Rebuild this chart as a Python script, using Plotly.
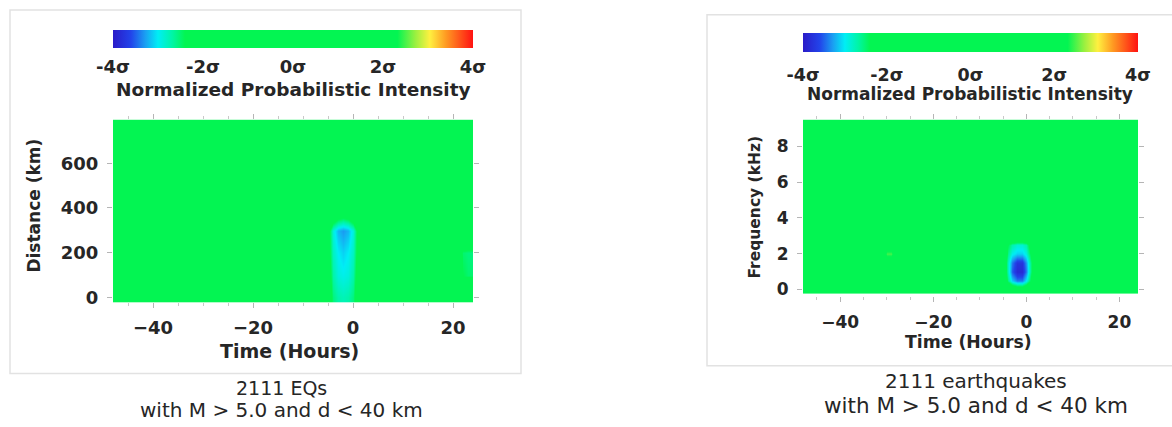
import numpy as np
import plotly.graph_objects as go

W, H = 1172, 427

# ---------------- data ----------------
hours = list(range(-48, 25))                     # time bins (hours)
distance_km = [0, 100, 200, 300, 400, 500, 600, 700, 800]
frequency_khz = [0.0, 0.5, 1.0, 1.5, 2.0, 2.5, 3.0, 3.5, 4.0, 4.5,
                 5.0, 5.5, 6.0, 6.5, 7.0, 7.5, 8.0, 8.5, 9.0, 9.5]

# left panel: negative anomaly a few hours before the quakes
left_blob_hours = [-6, -5, -4, -3, -2, -1, 0, 1, 2]
left_blob_dist = [0, 100, 200, 300, 400]
left_blob_sigma = [
    [-0.8, -2.0, -2.55, -2.7, -2.75, -2.7, -2.55, -2.0, -0.8],
    [-0.9, -2.1, -2.7, -2.9, -2.95, -2.9, -2.7, -2.1, -0.9],
    [-1.0, -2.2, -2.8, -3.0, -3.1, -3.0, -2.8, -2.2, -1.0],
    [-1.0, -2.2, -2.9, -3.2, -3.3, -3.2, -2.9, -2.2, -1.0],
    [-0.4, -0.9, -1.4, -1.6, -1.7, -1.6, -1.4, -0.9, -0.4],
]
# left panel: faint anomaly at the right edge
left_edge_hours = [20, 21, 22, 23, 24]
left_edge_dist = [100, 200, 300]
left_edge_sigma = [
    [-1.2, -2.0, -2.4, -2.5, -2.5],
    [-1.3, -2.1, -2.5, -2.55, -2.55],
    [-0.5, -0.9, -1.2, -1.3, -1.3],
]

# right panel: strong negative anomaly at low frequency
right_blob_hours = [-6, -5, -4, -3, -2, -1, 0, 1, 2]
right_blob_freq = [0.0, 0.5, 1.0, 1.5, 2.0, 2.5, 3.0]
right_blob_sigma = [
    [-0.4, -0.8, -1.2, -1.6, -1.8, -1.8, -1.6, -1.0, -0.4],
    [-0.6, -1.6, -2.6, -3.1, -3.4, -3.4, -3.0, -2.3, -0.8],
    [-0.7, -1.8, -2.8, -3.5, -3.85, -3.85, -3.4, -2.5, -0.9],
    [-0.7, -1.8, -2.8, -3.4, -3.75, -3.75, -3.3, -2.5, -0.9],
    [-0.6, -1.6, -2.6, -2.95, -3.1, -3.1, -2.9, -2.3, -0.8],
    [-0.5, -1.4, -2.4, -2.7, -2.85, -2.85, -2.7, -2.1, -0.7],
    [-0.2, -0.5, -0.9, -1.1, -1.2, -1.2, -1.1, -0.8, -0.3],
]
# right panel: faint positive spot
right_spot_hours = [-32, -31, -30, -29, -28, -27]
right_spot_freq = [1.5, 2.0, 2.5]
right_spot_sigma = [
    [0.6, 1.2, 1.8, 1.8, 1.2, 0.6],
    [1.0, 1.9, 2.5, 2.5, 1.9, 1.0],
    [0.6, 1.2, 1.8, 1.8, 1.2, 0.6],
]

sigma_ticks = [-4, -2, 0, 2, 4]
sigma_labels = ["-4σ", "-2σ", "0σ", "2σ", "4σ"]
time_ticks = [-40, -20, 0, 20]
dist_ticks = [0, 200, 400, 600]
freq_ticks = [0, 2, 4, 6, 8]


def build_grid(xs, ys, patches):
    z = np.zeros((len(ys), len(xs)))
    for pxs, pys, pv in patches:
        for j, yv in enumerate(pys):
            for i, xv in enumerate(pxs):
                z[ys.index(yv), xs.index(xv)] = pv[j][i]
    return z


z_left = build_grid(hours, distance_km,
                    [(left_blob_hours, left_blob_dist, left_blob_sigma),
                     (left_edge_hours, left_edge_dist, left_edge_sigma)])
z_right = build_grid(hours, frequency_khz,
                     [(right_blob_hours, right_blob_freq, right_blob_sigma),
                      (right_spot_hours, right_spot_freq, right_spot_sigma)])

# ---------------- style ----------------
FONT = "DejaVu Sans"
TXT = "#262626"
GREEN = "#03f552"
colorscale = [
    [0.0, "#2a1bc8"], [0.05, "#2244ea"], [0.09, "#1aa0f2"], [0.125, "#00eef5"],
    [0.165, "#00f5a5"], [0.2, GREEN], [0.79, GREEN], [0.84, "#9af040"],
    [0.88, "#fff040"], [0.925, "#ff9a22"], [1.0, "#ff1212"],
]


def px(x):
    return x / W


def py(y):
    return 1 - y / H


# plot rectangles in pixels
L = dict(x0=113, x1=473, y0=121, y1=306)
R = dict(x0=803, x1=1138, y0=121, y1=300)
CBL = dict(x0=113, x1=473, y0=30, t=18)
CBR = dict(x0=803, x1=1138, y0=33, t=19)


def colorbar(cb, fs_tick, tlen):
    return dict(
        orientation="h", x=px((cb["x0"] + cb["x1"]) / 2), xanchor="center",
        y=py(cb["y0"]), yanchor="top", len=cb["x1"] - cb["x0"], lenmode="pixels",
        thickness=cb["t"], thicknessmode="pixels", xpad=0, ypad=0, outlinewidth=0,
        tickvals=sigma_ticks, ticktext=sigma_labels, ticks="outside", ticklen=tlen,
        tickcolor="rgba(0,0,0,0)",
        tickfont=dict(family=FONT, size=fs_tick, color=TXT, weight="bold"),
    )


fig = go.Figure()
fig.add_trace(go.Heatmap(x=hours, y=distance_km, z=z_left, coloraxis="coloraxis",
                         zsmooth="best", xaxis="x", yaxis="y", hoverinfo="skip"))
fig.add_trace(go.Heatmap(x=hours, y=frequency_khz, z=z_right, coloraxis="coloraxis2",
                         zsmooth="best", xaxis="x2", yaxis="y2", hoverinfo="skip"))

tick_common = dict(ticks="outside", ticklen=5, tickcolor="#b5b5b5", tickwidth=1,
                   showgrid=False, zeroline=False, showline=False, mirror="ticks")
minor_x = dict(dtick=5, ticks="outside", ticklen=3, tickcolor="#c8c8c8")

fig.update_layout(
    width=W, height=H, margin=dict(l=0, r=0, t=0, b=0),
    paper_bgcolor="white", plot_bgcolor="white", showlegend=False,
    font=dict(family=FONT, color=TXT),
    coloraxis=dict(colorscale=colorscale, cmin=-4, cmax=4, colorbar=colorbar(CBL, 18, 4)),
    coloraxis2=dict(colorscale=colorscale, cmin=-4, cmax=4, colorbar=colorbar(CBR, 17.5, 8)),
    xaxis=dict(domain=[px(L["x0"]), px(L["x1"])], range=[-48, 24], anchor="y",
               tickvals=time_ticks, minor=minor_x,
               tickfont=dict(size=18, weight="bold"), ticklabelstandoff=4, **tick_common),
    yaxis=dict(domain=[py(L["y1"]), py(L["y0"])], range=[-22, 795], anchor="x",
               tickvals=dist_ticks, tickfont=dict(size=18, weight="bold"),
               ticklabelstandoff=5, **tick_common),
    xaxis2=dict(domain=[px(R["x0"]), px(R["x1"])], range=[-48, 24], anchor="y2",
                tickvals=time_ticks, minor=minor_x,
                tickfont=dict(size=17, weight="bold"), ticklabelstandoff=5, **tick_common),
    yaxis2=dict(domain=[py(R["y1"]), py(R["y0"])], range=[-0.4, 9.5], anchor="x2",
                tickvals=freq_ticks, tickfont=dict(size=17, weight="bold"),
                ticklabelstandoff=5, **tick_common),
)

# panel frames
fig.add_shape(type="rect", xref="paper", yref="paper", x0=px(10), x1=px(521),
              y0=py(378), y1=py(10), line=dict(color="#e2e2e2", width=1.5))
fig.add_shape(type="rect", xref="paper", yref="paper", x0=px(707), x1=px(1180),
              y0=py(370), y1=py(15), line=dict(color="#e2e2e2", width=1.5))


def note(text, x, y, size, angle=0, bold=False):
    fig.add_annotation(text=text, x=px(x), y=py(y), xref="paper", yref="paper",
                       showarrow=False, xanchor="center", yanchor="middle",
                       textangle=angle,
                       font=dict(family=FONT, size=size, color=TXT,
                                 weight="bold" if bold else "normal"))


# colorbar titles
note("Normalized Probabilistic Intensity", 293, 91, 18.5, bold=True)
note("Normalized Probabilistic Intensity", 970, 95, 17, bold=True)
# axis titles
note("Time (Hours)", 289, 355, 19, bold=True)
note("Distance (km)", 34, 208, 17, -90, bold=True)
note("Time (Hours)", 968, 346, 17.3, bold=True)
note("Frequency (kHz)", 755, 210, 15.5, -90, bold=True)
# captions
note("2111 EQs", 281, 393, 19)
note("with M &gt; 5.0 and d &lt; 40 km", 281, 415, 20)
note("2111 earthquakes", 976, 386, 20)
note("with M &gt; 5.0 and d &lt; 40 km", 976, 410, 21.5)

fig.write_html("out.html")
